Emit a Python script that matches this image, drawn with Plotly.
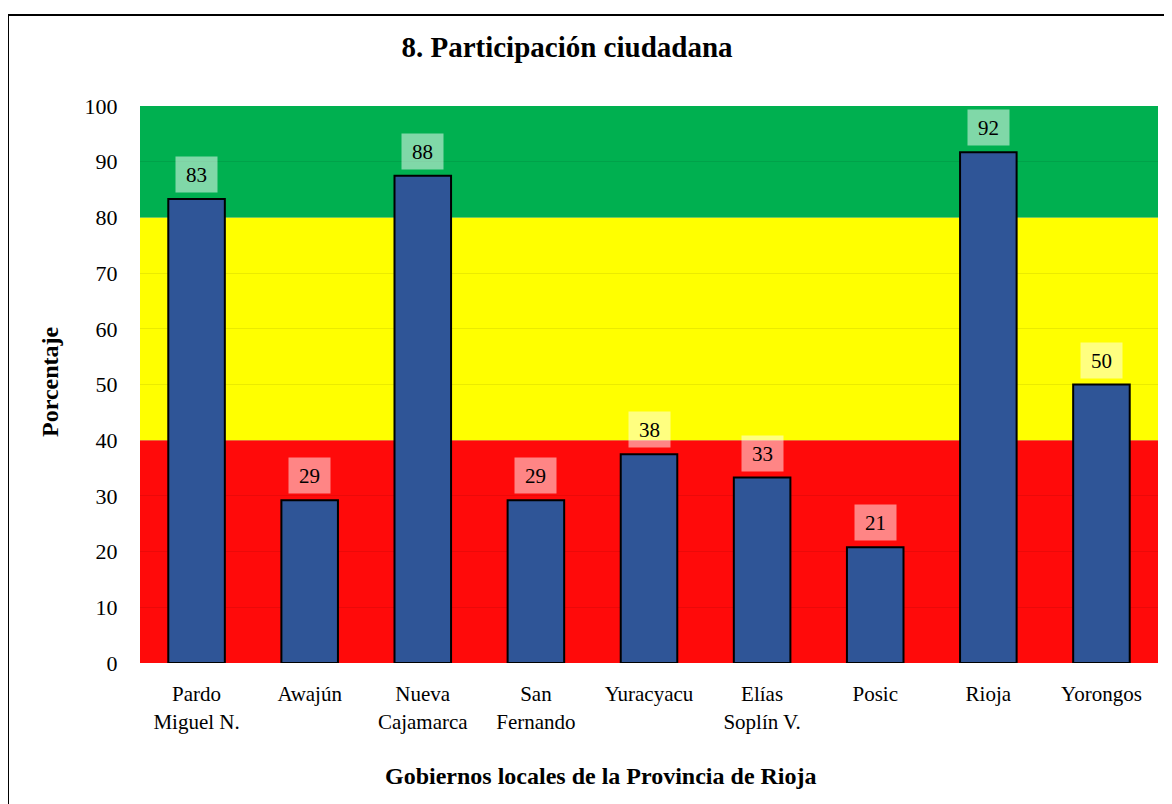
import plotly.graph_objects as go

categories = ["Pardo<br>Miguel N.", "Awajún", "Nueva<br>Cajamarca", "San<br>Fernando",
              "Yuracyacu", "Elías<br>Soplín V.", "Posic", "Rioja", "Yorongos"]
values = [83.3, 29.2, 87.5, 29.2, 37.5, 33.3, 20.8, 91.7, 50.0]
labels = ["83", "29", "88", "29", "38", "33", "21", "92", "50"]
band_edges = [0, 40, 80, 100]
band_colors = ["#FF0A0A", "#FFFF00", "#00B050"]
y_ticks = list(range(0, 101, 10))

FONT = "Liberation Serif, Times New Roman, serif"

# page offset of the figure (browser body margin)
OFF = 8
PL, PT, PW, PH = 140, 106, 1018, 557  # plot area in page px


def px_x(p):
    return (p - PL) / PW


def px_y(p):
    return (PT + PH - p) / PH


fig = go.Figure()
fig.add_trace(go.Bar(
    x=categories, y=values,
    marker=dict(color="#2F5597", line=dict(color="black", width=2)),
    hoverinfo="skip",
))

shapes = []
for i, c in enumerate(band_colors):
    shapes.append(dict(type="rect", xref="paper", yref="y", x0=0, x1=1,
                       y0=band_edges[i], y1=band_edges[i + 1],
                       fillcolor=c, line=dict(width=0), layer="below"))
# outer border
shapes.append(dict(type="rect", xref="paper", yref="paper",
                   x0=px_x(8), x1=px_x(1200), y0=px_y(830), y1=px_y(15),
                   line=dict(color="black", width=2), fillcolor="rgba(0,0,0,0)"))

annotations = []
for c, v, t in zip(categories, values, labels):
    annotations.append(dict(x=c, y=v, xref="x", yref="y", text=t, showarrow=False,
                            xanchor="center", yanchor="bottom", yshift=6,
                            font=dict(family=FONT, size=21, color="black"),
                            bgcolor="rgba(255,255,255,0.5)", width=31, height=25,
                            borderpad=5))
annotations.append(dict(x=px_x(601), y=px_y(776), xref="paper", yref="paper",
                        xanchor="center", yanchor="middle",
                        text="<b>Gobiernos locales de la Provincia de Rioja</b>", showarrow=False,
                        font=dict(family=FONT, size=24, color="black")))
annotations.append(dict(x=px_x(50), y=px_y(382), xref="paper", yref="paper",
                        xanchor="center", yanchor="middle",
                        text="<b>Porcentaje</b>", showarrow=False, textangle=-90,
                        font=dict(family=FONT, size=24, color="black")))

W, H = 1172, 804
fig.update_layout(
    width=W, height=H,
    margin=dict(l=PL - OFF, r=W - (PL - OFF) - PW, t=PT - OFF, b=H - (PT - OFF) - PH),
    paper_bgcolor="white", plot_bgcolor="white",
    title=dict(text="<b>8. Participación ciudadana</b>", x=(567 - OFF) / W, xanchor="center",
               y=1 - (47 - OFF) / H, yanchor="middle",
               font=dict(family=FONT, size=29, color="black")),
    showlegend=False,
    bargap=0.5,
    shapes=shapes,
    annotations=annotations,
    font=dict(family=FONT, color="black"),
)
fig.update_yaxes(range=[0, 100], tickvals=y_ticks, showgrid=True,
                 gridcolor="rgba(0,0,0,0.08)", gridwidth=1, zeroline=False,
                 ticks="outside", ticklen=17, tickcolor="rgba(0,0,0,0)",
                 tickfont=dict(family=FONT, size=22, color="black"), showline=False)
fig.update_xaxes(ticks="outside", ticklen=12, tickcolor="rgba(0,0,0,0)",
                 tickfont=dict(family=FONT, size=21, color="black"), showline=False)

fig.write_html("out.html")
